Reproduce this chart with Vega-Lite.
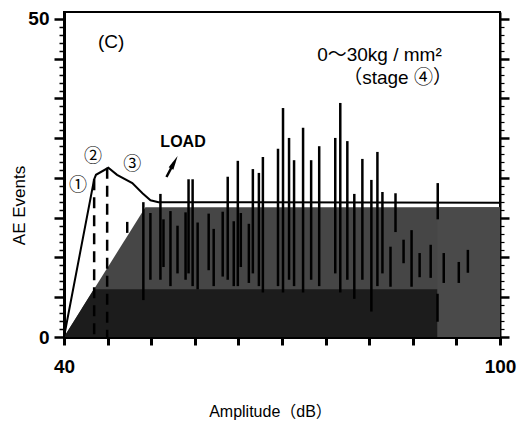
{
  "$schema": "https://vega.github.io/schema/vega-lite/v6.json",
  "width": 436,
  "height": 325,
  "autosize": "none",
  "padding": {"left": 64, "top": 12, "right": 20, "bottom": 85},
  "background": "white",
  "config": {"view": {"stroke": "black", "strokeWidth": 2}},
  "datasets": {
    "env": [
      {"amp": 40, "ev": 0}, {"amp": 44.15, "ev": 24.8}, {"amp": 44.4, "ev": 25.5},
      {"amp": 46.1, "ev": 26.6}, {"amp": 47.3, "ev": 25.5}, {"amp": 49.4, "ev": 24.2},
      {"amp": 50.8, "ev": 22.6}, {"amp": 51.9, "ev": 21.5}, {"amp": 53.0, "ev": 21.2},
      {"amp": 100, "ev": 21.1}
    ],
    "shadeMid": [{"amp": 40, "ev": 0}, {"amp": 51.2, "ev": 20.4}, {"amp": 100, "ev": 20.4}],
    "shadeDark": [{"amp": 40, "ev": 0}, {"amp": 44.1, "ev": 7.5}, {"amp": 91.4, "ev": 7.5}],
    "shadeRight": [{"amp": 91.4, "ev": 20.4}, {"amp": 100, "ev": 20.4}],
    "spikes": [
      {"amp": 50.92, "ev": 21.2, "ev2": 5.8}, {"amp": 53.27, "ev": 22.5, "ev2": 9},
      {"amp": 57.14, "ev": 24.8, "ev2": 10}, {"amp": 57.7, "ev": 24.8, "ev2": 8},
      {"amp": 62.53, "ev": 25.2, "ev2": 9}, {"amp": 63.92, "ev": 27.7, "ev2": 8},
      {"amp": 65.99, "ev": 26.4, "ev2": 10}, {"amp": 66.82, "ev": 25.8, "ev2": 8},
      {"amp": 67.37, "ev": 28.3, "ev2": 7}, {"amp": 69.45, "ev": 29.6, "ev2": 8},
      {"amp": 70.14, "ev": 36.0, "ev2": 7}, {"amp": 70.97, "ev": 31.3, "ev2": 9},
      {"amp": 71.66, "ev": 27.8, "ev2": 8}, {"amp": 72.9, "ev": 32.9, "ev2": 7},
      {"amp": 74.01, "ev": 27.8, "ev2": 9}, {"amp": 75.12, "ev": 30.0, "ev2": 8},
      {"amp": 77.33, "ev": 31.3, "ev2": 10}, {"amp": 78.02, "ev": 36.8, "ev2": 7},
      {"amp": 78.99, "ev": 30.8, "ev2": 9}, {"amp": 79.95, "ev": 22.5, "ev2": 6},
      {"amp": 81.06, "ev": 28.0, "ev2": 9}, {"amp": 82.3, "ev": 24.7, "ev2": 4},
      {"amp": 83.13, "ev": 29.1, "ev2": 8}, {"amp": 83.82, "ev": 22.8, "ev2": 10},
      {"amp": 85.62, "ev": 22.6, "ev2": 16.5}, {"amp": 91.43, "ev": 24.2, "ev2": 18.5},
      {"amp": 84.93, "ev": 14.2, "ev2": 7.9}, {"amp": 86.73, "ev": 15.3, "ev2": 11.6},
      {"amp": 87.83, "ev": 16.8, "ev2": 7.9}, {"amp": 88.94, "ev": 13.2, "ev2": 9.4},
      {"amp": 90.46, "ev": 14.5, "ev2": 9.3}, {"amp": 92.26, "ev": 13.2, "ev2": 8.5},
      {"amp": 94.33, "ev": 11.8, "ev2": 8.5}, {"amp": 95.58, "ev": 13.7, "ev2": 10.1},
      {"amp": 91.4, "ev": 6.8, "ev2": 2.4},
      {"amp": 51.89, "ev": 19.5, "ev2": 9}, {"amp": 53.69, "ev": 18.5, "ev2": 11},
      {"amp": 54.65, "ev": 19.8, "ev2": 8}, {"amp": 55.62, "ev": 17.5, "ev2": 10},
      {"amp": 56.73, "ev": 19.6, "ev2": 9}, {"amp": 58.39, "ev": 18.0, "ev2": 7.5},
      {"amp": 59.91, "ev": 19.4, "ev2": 10.5}, {"amp": 60.6, "ev": 17.0, "ev2": 8},
      {"amp": 61.84, "ev": 19.7, "ev2": 9.5}, {"amp": 63.36, "ev": 18.2, "ev2": 8},
      {"amp": 64.33, "ev": 19.5, "ev2": 11}, {"amp": 65.44, "ev": 17.8, "ev2": 8.5}
    ],
    "dashes": [
      {"amp": 44.15, "ev": 24.8, "ev2": 0}, {"amp": 45.94, "ev": 26.6, "ev2": 0},
      {"amp": 48.7, "ev": 18.1, "ev2": 16.0}
    ],
    "arrow": [{"amp": 54.1, "ev": 25.16, "amp2": 55.18, "ev2": 27.48}],
    "arrowHead": [{"amp": 55.18, "ev": 27.48}],
    "latinText": [
      {"amp": 46.5, "ev": 46.4, "t": "(C)"}
    ],
    "cjkText": [
      {"amp": 83.41, "ev": 44.3, "t": "0～30kg / mm²"},
      {"amp": 85.9, "ev": 40.7, "t": "（stage ④）"}
    ],
    "loadText": [{"amp": 56.38, "ev": 30.6, "t": "LOAD"}],
    "circled": [
      {"amp": 41.94, "ev": 23.74, "t": "①"},
      {"amp": 44.0, "ev": 28.3, "t": "②"},
      {"amp": 49.4, "ev": 27.0, "t": "③"}
    ]
  },
  "layer": [
    {
      "encoding": {
        "x": {
          "field": "amp", "type": "quantitative",
          "scale": {"domain": [40, 100], "nice": false, "zero": false},
          "axis": {
            "title": "Amplitude（dB）",
            "values": [40, 46, 52, 58, 64, 70, 76, 82, 88, 94, 100],
            "labelExpr": "datum.value == 40 || datum.value == 100 ? datum.label : ''",
            "grid": false, "domainColor": "black", "domainWidth": 3,
            "tickColor": "black", "tickSize": 8, "tickWidth": 3,
            "labelFont": "Liberation Sans", "labelFontSize": 19, "labelFontWeight": "bold",
            "labelColor": "black", "labelPadding": 12, "labelFlush": false, "labelOverlap": false,
            "titleFont": "Liberation Sans, Noto Sans CJK JP", "titleFontSize": 16, "titleFontWeight": "normal",
            "titleColor": "black", "titleX": 206, "titleY": 74, "titleBaseline": "middle", "titleAlign": "center"
          }
        },
        "y": {
          "field": "ev", "type": "quantitative",
          "scale": {"domain": [0, 51.1], "nice": false, "zero": false},
          "axis": {
            "title": "AE Events",
            "values": [0, 1.25, 2.5, 3.75, 5, 6.25, 7.5, 8.75, 10, 11.25, 12.5, 13.75, 15, 16.25, 17.5, 18.75, 20, 21.25, 22.5, 23.75, 25, 26.25, 27.5, 28.75, 30, 31.25, 32.5, 33.75, 35, 36.25, 37.5, 38.75, 40, 41.25, 42.5, 43.75, 45, 46.25, 47.5, 48.75, 50],
            "labelExpr": "datum.value == 0 || datum.value == 50 ? datum.label : ''",
            "grid": false, "domainColor": "black", "domainWidth": 3, "tickColor": "black",
            "tickSize": {"condition": {"test": "datum.value % 6.25 == 0", "value": 10}, "value": 5},
            "tickWidth": {"condition": {"test": "datum.value % 6.25 == 0", "value": 2.5}, "value": 1.5},
            "labelFont": "Liberation Sans", "labelFontSize": 19, "labelFontWeight": "bold",
            "labelColor": "black", "labelPadding": 5, "labelFlush": false, "labelOverlap": false,
            "titleFont": "Liberation Sans", "titleFontSize": 17, "titleFontWeight": "normal",
            "titleColor": "black", "titleX": -45, "titleY": 193, "titleAngle": 270,
            "titleBaseline": "middle", "titleAlign": "center"
          }
        }
      },
      "layer": [
        {"data": {"name": "shadeMid"}, "mark": {"type": "area", "color": "#464646"}},
        {"data": {"name": "shadeDark"}, "mark": {"type": "area", "color": "#1c1c1c"}},
        {"data": {"name": "shadeRight"}, "mark": {"type": "area", "color": "#4a4a4a"}},
        {"data": {"name": "spikes"}, "mark": {"type": "rule", "color": "black", "strokeWidth": 2.5},
          "encoding": {"y2": {"field": "ev2"}}},
        {"data": {"name": "env"}, "mark": {"type": "line", "color": "black", "strokeWidth": 2}},
        {"data": {"name": "dashes"}, "mark": {"type": "rule", "color": "black", "strokeWidth": 2.5, "strokeDash": [11, 7]},
          "encoding": {"y2": {"field": "ev2"}}},
        {"data": {"name": "arrow"}, "mark": {"type": "rule", "color": "black", "strokeWidth": 2.5},
          "encoding": {"x2": {"field": "amp2"}, "y2": {"field": "ev2"}}},
        {"data": {"name": "arrowHead"}, "mark": {"type": "point", "shape": "M0,-1L0.38,1L-0.38,1Z", "size": 196, "angle": 28, "filled": true, "color": "black", "opacity": 1}},
        {"data": {"name": "latinText"}, "mark": {"type": "text", "font": "Liberation Sans", "fontSize": 19, "color": "black", "align": "center", "baseline": "middle"},
          "encoding": {"text": {"field": "t"}}},
        {"data": {"name": "cjkText"}, "mark": {"type": "text", "font": "Liberation Sans, Noto Sans CJK JP", "fontSize": 19, "color": "black", "align": "center", "baseline": "middle"},
          "encoding": {"text": {"field": "t"}}},
        {"data": {"name": "loadText"}, "mark": {"type": "text", "font": "Liberation Sans", "fontSize": 16, "fontWeight": "bold", "color": "black", "align": "center", "baseline": "middle"},
          "encoding": {"text": {"field": "t"}}},
        {"data": {"name": "circled"}, "mark": {"type": "text", "font": "Noto Sans CJK JP", "fontSize": 18, "color": "black", "align": "center", "baseline": "middle"},
          "encoding": {"text": {"field": "t"}}}
      ]
    },
    {
      "data": {"name": "env"},
      "mark": {"type": "rule", "strokeOpacity": 0},
      "encoding": {
        "y": {
          "field": "ev", "type": "quantitative",
          "scale": {"domain": [0, 51.1], "nice": false, "zero": false},
          "axis": {
            "orient": "right", "title": null, "labels": false, "grid": false,
            "values": [0, 1.25, 2.5, 3.75, 5, 6.25, 7.5, 8.75, 10, 11.25, 12.5, 13.75, 15, 16.25, 17.5, 18.75, 20, 21.25, 22.5, 23.75, 25, 26.25, 27.5, 28.75, 30, 31.25, 32.5, 33.75, 35, 36.25, 37.5, 38.75, 40, 41.25, 42.5, 43.75, 45, 46.25, 47.5, 48.75, 50],
            "domainColor": "black", "domainWidth": 2, "tickColor": "black",
            "tickSize": {"condition": {"test": "datum.value % 6.25 == 0", "value": 9}, "value": 4},
            "tickWidth": {"condition": {"test": "datum.value % 6.25 == 0", "value": 2.5}, "value": 1.2}
          }
        }
      }
    }
  ],
  "resolve": {"axis": {"y": "independent"}}
}
